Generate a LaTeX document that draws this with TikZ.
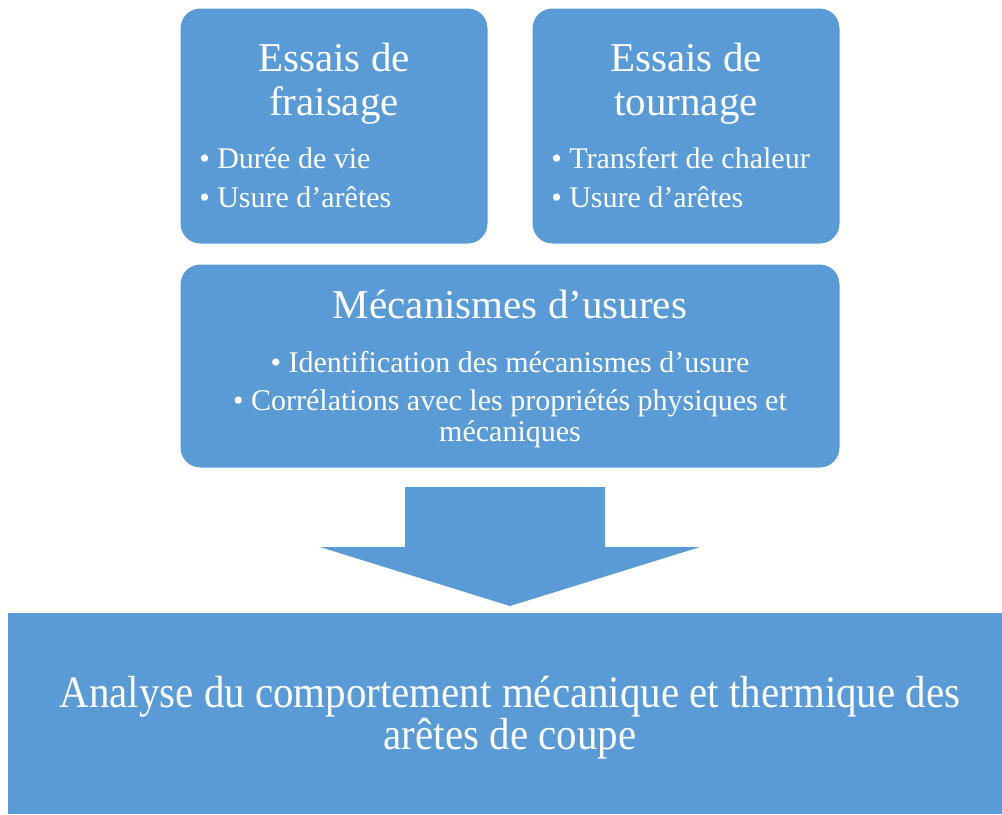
\documentclass[tikz,border=0pt]{standalone}
\usepackage{fontspec}
\setmainfont{Liberation Serif}
\newfontfamily\narrowserif[FakeStretch=0.91]{Liberation Serif}
\definecolor{boxblue}{HTML}{5B9BD5}

\begin{document}
\begin{tikzpicture}[x=0.75pt,y=-0.75pt,
                    every node/.style={inner sep=0pt, text=white},
                    block/.style={fill=boxblue, draw=white, line width=0.75pt,
                                  rounded corners=15pt},
                    title/.style={font=\fontsize{30.75}{33}\selectfont,
                                  align=center, anchor=north},
                    items/.style={font=\fontsize{22.5}{29.25}\selectfont,
                                  align=left, anchor=north west}]
  \useasboundingbox (0,0) rectangle (1002,814);
  % top row
  \node[block, minimum width=231pt, minimum height=177pt] (fraisage) at (334,126) {};
  \node[block, minimum width=231pt, minimum height=177pt] (tournage) at (686,126) {};
  \node[title] (fraisagetitle) at (334,43) {Essais de\\fraisage};
  \node[items] (fraisageitems) at (199,147.5) {• Durée de vie\\• Usure d’arêtes};
  \node[title] (tournagetitle) at (686,43) {Essais de\\tournage};
  \node[items] (tournageitems) at (551,147.5) {• Transfert de chaleur\\• Usure d’arêtes};
  % middle box
  \node[block, minimum width=495pt, minimum height=153pt] (mecanismes) at (510,366) {};
  \node[title] (mecanismestitle) at (510,290) {Mécanismes d’usures};
  \node[items, align=center, anchor=north, font=\fontsize{22.5}{23}\selectfont]
      (mecanismesitems) at (510,351.5)
      {• Identification des mécanismes d’usure\\[5.5pt]
       • Corrélations avec les propriétés physiques et\\mécaniques};
  % block arrow
  \fill[boxblue] (405,487) -- (605,487) -- (605,547) -- (700,547) -- (510,606)
      -- (320,547) -- (405,547) -- cycle;
  % bottom box
  \node[fill=boxblue, minimum width=745.5pt, minimum height=150.75pt] (analyse) at (505,713.5) {};
  \node[font=\narrowserif\fontsize{33.75}{30}\selectfont, align=center, anchor=north]
      (analysetext) at (510,676)
      {Analyse du comportement mécanique et thermique des\\arêtes de coupe};
\end{tikzpicture}
\end{document}
